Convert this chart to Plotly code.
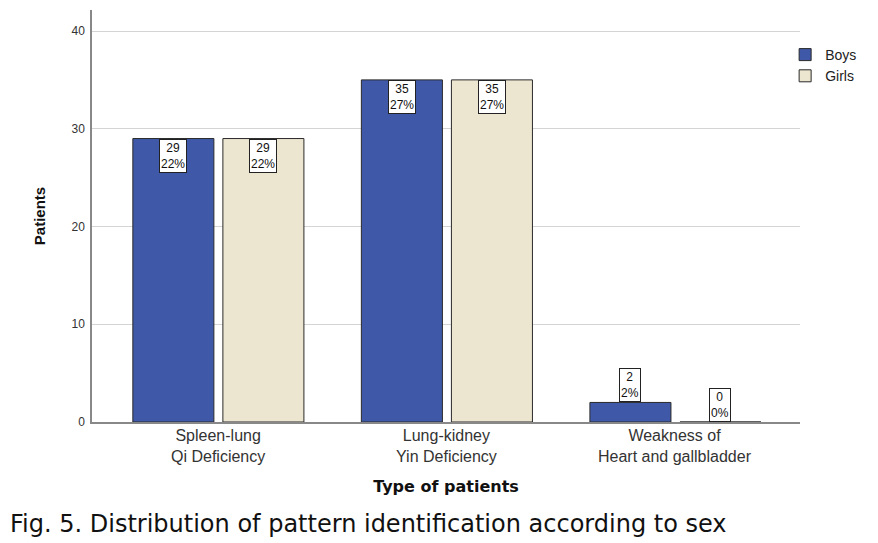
import plotly.graph_objects as go

categories = ["Spleen-lung<br>Qi Deficiency", "Lung-kidney<br>Yin Deficiency", "Weakness of<br>Heart and gallbladder"]
boys = [29, 35, 2]
girls = [29, 35, 0]
boys_pct = ["22%", "27%", "2%"]
girls_pct = ["22%", "27%", "0%"]
y_ticks = [0, 10, 20, 30, 40]

BOYS_COLOR = "#3F59A8"
GIRLS_COLOR = "#ECE5D0"

# figure geometry (page has an 8px body margin)
W, H = 870, 535
ML, MR, MT, MB = 84, 78, 2, 121
PW, PH = W - ML - MR, H - MT - MB

def py(fig_y):
    return (H - MB - fig_y) / PH

def px(fig_x):
    return (fig_x - ML) / PW

fig = go.Figure()
fig.add_trace(go.Bar(x=categories, y=boys, name="Boys", marker=dict(color=BOYS_COLOR, line=dict(color="#2a2a2a", width=1))))
fig.add_trace(go.Bar(x=categories, y=girls, name="Girls", marker=dict(color=GIRLS_COLOR, line=dict(color="#2a2a2a", width=1))))

annotations = []
for series, pcts, shift in [(boys, boys_pct, -45), (girls, girls_pct, 45)]:
    for cat, v, p in zip(categories, series, pcts):
        big = v >= 5
        annotations.append(dict(
            x=cat, y=v, xref="x", yref="y", xshift=shift,
            text=f"{v}<br>{p}", showarrow=False,
            yanchor="top" if big else "bottom",
            font=dict(family="Liberation Sans, Arial", size=12, color="#111"),
            bgcolor="white", bordercolor="#222", borderwidth=1, borderpad=1,
        ))

# category labels (two lines each)
for cat in categories:
    annotations.append(dict(
        x=cat, y=py(438.5), xref="x", yref="paper", text=cat, showarrow=False,
        yanchor="middle", xanchor="center",
        font=dict(family="Liberation Sans, Arial", size=16, color="#333"),
    ))

annotations.append(dict(
    x=px(0), y=py(516), xref="paper", yref="paper",
    text="Fig. 5. Distribution of pattern identification according to sex",
    showarrow=False, xanchor="left", yanchor="middle",
    font=dict(family="DejaVu Sans", size=24, color="#111"),
))

fig.update_layout(
    width=W, height=H,
    margin=dict(l=ML, r=MR, t=MT, b=MB),
    paper_bgcolor="white", plot_bgcolor="white",
    barmode="group", bargap=0.212, bargroupgap=0.1,
    font=dict(family="Liberation Sans, Arial", color="#333"),
    legend=dict(x=0.979, y=py(31), xanchor="left", yanchor="top",
                font=dict(size=14, color="#222"), bgcolor="rgba(0,0,0,0)",
                itemwidth=30),
    annotations=annotations,
    showlegend=True,
)

fig.update_xaxes(
    showline=True, linecolor="#888", linewidth=1.5,
    showticklabels=False,
    title=dict(text="<b>Type of patients</b>", font=dict(family="DejaVu Sans", size=16, color="#111"), standoff=58),
    range=[-0.553, 2.545], showgrid=False, ticks="",
)
fig.update_yaxes(
    range=[0, 42.15], tickvals=y_ticks,
    showline=True, linecolor="#888", linewidth=1.5,
    showgrid=True, gridcolor="#d4d4d4", gridwidth=1,
    tickfont=dict(size=12, color="#333"), ticks="", zeroline=False, ticklabelstandoff=3,
    title=dict(text="<b>Patients</b>", font=dict(size=15, color="#111"), standoff=22),
)

fig.write_html("out.html")
